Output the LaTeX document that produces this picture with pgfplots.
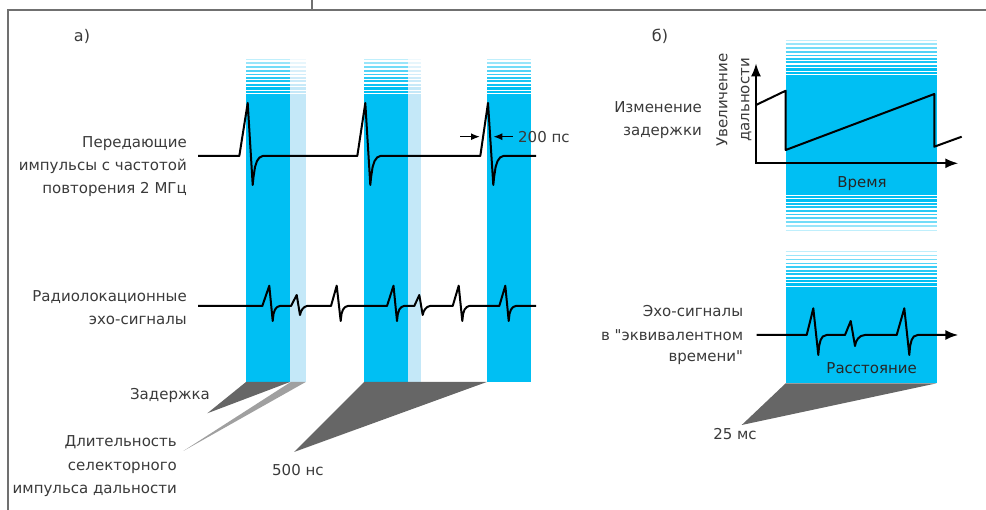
\documentclass[border=0pt]{standalone}
\usepackage{pgfplots}
\pgfplotsset{compat=1.18}
\usepackage{fontspec}
\setmainfont{DejaVu Sans}[Ligatures=TeXOff]
\usetikzlibrary{arrows.meta}
\definecolor{cy}{HTML}{00BFF3}
\definecolor{lb}{HTML}{C4E8F8}
\definecolor{sh}{HTML}{666666}
\definecolor{shl}{HTML}{A0A0A0}
\definecolor{fr}{HTML}{707070}
\definecolor{txt}{HTML}{3A3A3A}
\newcommand\tf{\fontsize{15bp}{18bp}\selectfont}
\tikzset{lbl/.style={font=\tf, text=txt, inner sep=0pt},
  sig/.style={black, line width=2bp, line join=round}}
\newcommand\stripeset[5]{%
  \foreach \oo/\tw/\cc in {2/2.6/100,5.5/2.4/100,9/2.2/95,12.5/2.0/90,16/1.8/85,19.5/1.6/78,23/1.5/68,27/1.3/55,31/1.1/40,35/0.9/25}{%
    \pgfmathsetmacro\yy{#3+(#4)*\oo}%
    \edef\temp{\noexpand\addplot[draw=#5!\cc!white, line width=\tw bp, forget plot] coordinates {(#1,\yy) (#2,\yy)};}%
    \temp
  }%
}
\begin{document}
\begin{tikzpicture}
\begin{axis}[scale only axis, width=986bp, height=510bp,
  xmin=0, xmax=986, ymin=0, ymax=510, y dir=reverse,
  hide axis, clip=false]
% frame
\addplot[fr, line width=1.2bp, forget plot] coordinates {(8,510) (8,10) (986,10)};
\addplot[fr, line width=1.2bp, forget plot] coordinates {(312,0) (312,10)};
% panel a columns
\addplot[fill=cy, draw=none, forget plot] coordinates {(246,94) (290,94) (290,382) (246,382)};
\addplot[fill=lb, draw=none, forget plot] coordinates {(290,94) (306,94) (306,382) (290,382)};
\addplot[fill=cy, draw=none, forget plot] coordinates {(364,94) (408,94) (408,382) (364,382)};
\addplot[fill=lb, draw=none, forget plot] coordinates {(408,94) (421,94) (421,382) (408,382)};
\addplot[fill=cy, draw=none, forget plot] coordinates {(487,94) (531,94) (531,382) (487,382)};
\stripeset{246}{290}{94}{-1}{cy}
\stripeset{290}{306}{94}{-1}{lb}
\stripeset{364}{408}{94}{-1}{cy}
\stripeset{408}{421}{94}{-1}{lb}
\stripeset{487}{531}{94}{-1}{cy}
% panel b columns
\addplot[fill=cy, draw=none, forget plot] coordinates {(785.7,75) (936.7,75) (936.7,195) (785.7,195)};
\addplot[fill=cy, draw=none, forget plot] coordinates {(785.7,286.7) (936.7,286.7) (936.7,383.3) (785.7,383.3)};
\stripeset{785.7}{936.7}{75}{-1}{cy}
\stripeset{785.7}{936.7}{195}{1}{cy}
\stripeset{785.7}{936.7}{286.7}{-1}{cy}
% shadows
\addplot[fill=sh, draw=none, forget plot] coordinates {(246,382) (290,382) (207.3,413.3)};
\addplot[fill=shl, draw=none, forget plot] coordinates {(290.7,382) (305.7,382) (183.3,451)};
\addplot[fill=sh, draw=none, forget plot] coordinates {(364,382) (486.7,382) (294,452)};
\addplot[fill=sh, draw=none, forget plot] coordinates {(785.7,383.3) (936.7,383.3) (741.7,425)};
% transmit pulses
\addplot[sig, forget plot] coordinates {(198,156)
 (239.3,156) (247.7,103) (252.7,185) (253.5,177) (255,167) (257,161) (259.5,157.5) (262.7,156)
 (357.3,156) (365.3,103) (370.3,185) (371.1,177) (372.6,167) (374.6,161) (377.1,157.5) (380.3,156)
 (480.3,156) (488,103) (493.3,185) (494.1,177) (495.6,167) (497.6,161) (500.1,157.5) (503.3,156)
 (536,156)};
% echo signals
\addplot[sig, forget plot] coordinates {(198,306)
 (262.3,306) (269.3,285.7) (272.7,321) (273.5,314) (275,309.5) (277.2,307) (279.7,306)
 (291,306) (296.7,295) (300,315) (301,311.5) (302.5,309) (304.5,307) (307,306)
 (331,306) (336.7,285.7) (340.7,321) (341.5,314) (343,309.5) (345.2,307) (347.7,306)
 (387,306) (393.5,285.7) (397,321) (397.8,314) (399.3,309.5) (401.5,307) (404,306)
 (414.3,306) (419.3,295) (422.7,315) (423.7,311.5) (425.2,309) (427.2,307) (430,306)
 (452.7,306) (458.7,285.7) (462.3,321) (463.1,314) (464.6,309.5) (466.8,307) (469.3,306)
 (499.3,306) (505.3,285.7) (508.7,321) (509.5,314) (511,309.5) (513.2,307) (515.7,306)
 (536,306)};
% 200 ps arrows
\addplot[black, line width=1.5bp, -{Latex[length=9bp,width=7bp]}, forget plot] coordinates {(460,136.7) (480,136.7)};
\addplot[black, line width=1.5bp, -{Latex[length=9bp,width=7bp]}, forget plot] coordinates {(512.7,136.7) (493.3,136.7)};
% panel b axes
\addplot[black, line width=2bp, line join=miter, {Latex[length=13bp,width=10bp]}-{Latex[length=13bp,width=10bp]}, forget plot] coordinates {(756,63.3) (756,163.3) (958.3,163.3)};
\addplot[sig, forget plot] coordinates {(756,105) (785.7,90.7) (785.7,150) (934.3,94) (934.3,146.7) (961.7,136.7)};
% panel b echo
\addplot[black, line width=2bp, line join=round, -{Latex[length=13bp,width=10bp]}, forget plot] coordinates {(756.7,335)
 (806.7,335) (813.3,308.3) (818.3,355) (819.1,346) (820.6,340) (822.8,336.5) (826.7,335)
 (845,335) (850.7,321) (855,346) (856,342) (858,338.5) (861,336) (865,335)
 (896.7,335) (904.3,308.3) (909.3,355) (910.1,346) (911.6,340) (913.8,336.5) (917.7,335)
 (958.3,335)};
% texts
\node[lbl, font=\fontsize{16bp}{19bp}\selectfont] at (82,36) {а)};
\node[lbl, font=\fontsize{16bp}{19bp}\selectfont] at (660,36) {б)};
\node[lbl, anchor=base east] at (187,147.7) {Передающие};
\node[lbl, anchor=base east] at (187,170.7) {импульсы с частотой};
\node[lbl, anchor=base east] at (187,193.3) {повторения 2 МГц};
\node[lbl, anchor=base east] at (187,301.5) {Радиолокационные};
\node[lbl, anchor=base east] at (187,324.5) {эхо-сигналы};
\node[lbl, anchor=base east] at (210,399.5) {Задержка};
\node[lbl, anchor=base east] at (177,446.5) {Длительность};
\node[lbl, anchor=base east] at (177,471) {селекторного};
\node[lbl, anchor=base east] at (177,493.5) {импульса дальности};
\node[lbl, anchor=base west] at (272,475.5) {500 нс};
\node[lbl, anchor=base west] at (518,142.5) {200 пс};
\node[lbl, anchor=base east] at (702,112.8) {Изменение};
\node[lbl, anchor=base east] at (702,135.5) {задержки};
\node[lbl, rotate=90, align=center, font=\fontsize{15bp}{22bp}\selectfont] at (734,100) {Увеличение\\дальности};
\node[lbl, text=black!85] at (862,183.3) {Время};
\node[lbl, anchor=base east] at (743.3,317) {Эхо-сигналы};
\node[lbl, anchor=base east] at (743.3,340.5) {в "эквивалентном};
\node[lbl, anchor=base east] at (743.3,362) {времени"};
\node[lbl, text=black!85] at (871.7,368.3) {Расстояние};
\node[lbl] at (735,434.3) {25 мс};
\end{axis}
\pgfresetboundingbox
\path (current axis.south west) rectangle (current axis.north east);
\end{tikzpicture}
\end{document}
